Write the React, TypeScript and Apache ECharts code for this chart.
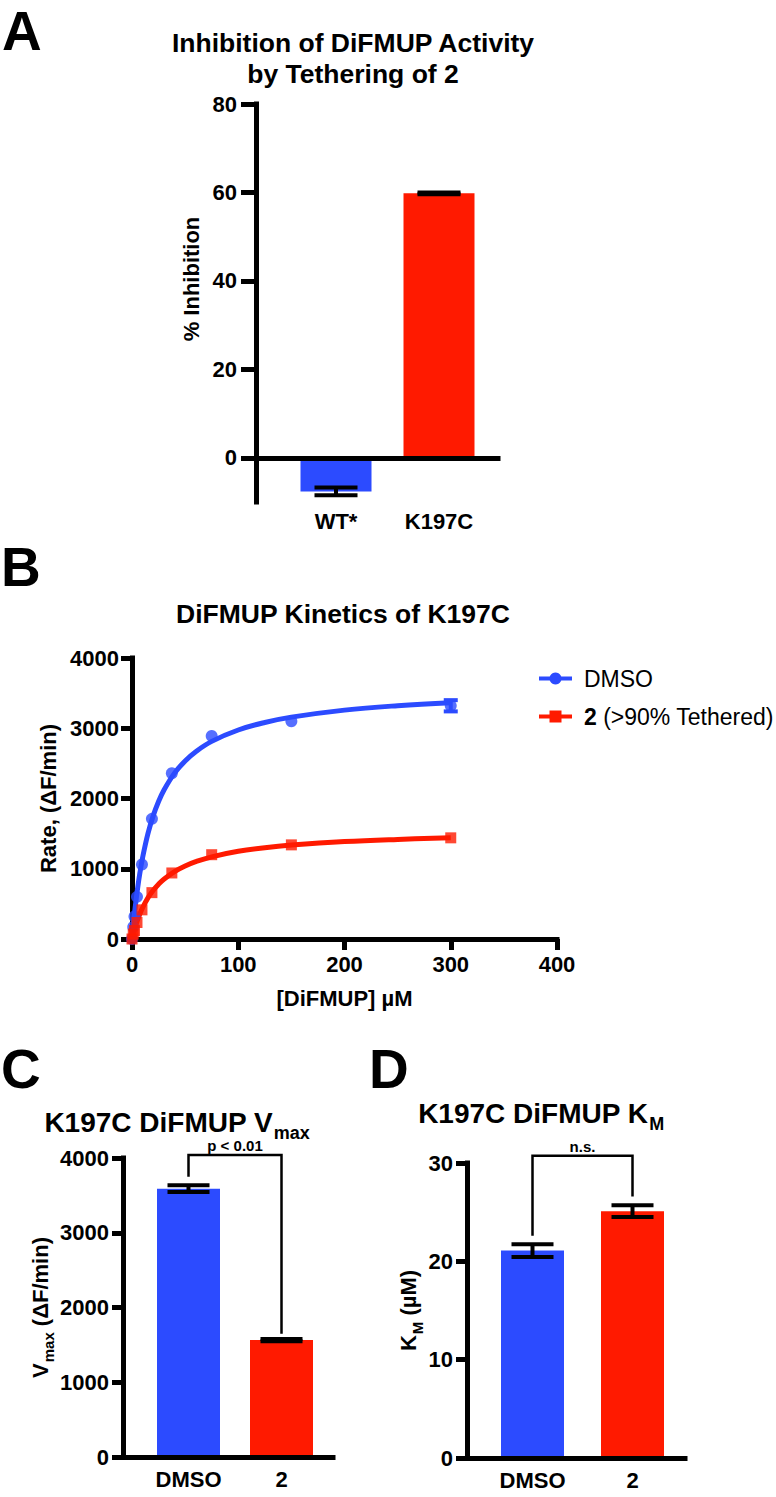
import React, { useEffect, useRef } from 'react';
import * as echarts from 'echarts';

const FONT = '"Liberation Sans", Arial, Helvetica, sans-serif';
const BLUE = '#2c4bff';
const RED = '#ff1a00';

// Panel A
const A_CATEGORIES = ['WT*', 'K197C'];
const A_MEANS = [-7.6, 59.8];
const A_ERRORS = [0.9, 0.2];
const A_TICKS = [0, 20, 40, 60, 80];

// Panel B
const B_CONC = [0, 1.17, 2.34, 4.69, 9.38, 18.75, 37.5, 75, 150, 300];
const B_DMSO_RATE = [0, 170, 320, 600, 1060, 1710, 2360, 2890, 3100, 3320];
const B_TETHER_RATE = [0, 70, 120, 235, 415, 660, 940, 1200, 1340, 1440];
const B_DMSO_ERR = [0, 0, 0, 0, 0, 0, 0, 0, 0, 80];
const B_FIT_X = [0, 1, 2, 3, 5, 7.5, 10, 15, 20, 25, 30, 40, 50, 60, 75, 100, 125, 150, 200, 250, 300];
const B_DMSO_FIT = [0, 164, 313, 450, 692, 947, 1161, 1500, 1756, 1957, 2118, 2361, 2535, 2667, 2813, 2975, 3082, 3158, 3258, 3321, 3364];
const B_TETHER_FIT = [0, 60, 116, 167, 260, 360, 446, 585, 693, 780, 851, 960, 1040, 1101, 1170, 1248, 1300, 1337, 1387, 1418, 1440];
const B_SERIES_NAMES = ['DMSO', '2 (>90% Tethered)'];

// Panel C
const C_CATEGORIES = ['DMSO', '2'];
const C_MEANS = [3590, 1565];
const C_ERRORS = [45, 15];
const C_BRACKET = [0, 1, 3750, 4040, 1650];
const C_SIG = 'p < 0.01';

// Panel D
const D_CATEGORIES = ['DMSO', '2'];
const D_MEANS = [21.1, 25.1];
const D_ERRORS = [0.65, 0.6];
const D_BRACKET = [0, 1, 22.6, 30.75, 26.6];
const D_SIG = 'n.s.';

const plain = (v: number) => String(v);
const tickFont = { color: '#000', fontFamily: FONT, fontWeight: 'bold', fontSize: 22, formatter: plain };
const catFont = { color: '#000', fontFamily: FONT, fontWeight: 'bold', fontSize: 22 };
const nameFont = { color: '#000', fontFamily: FONT, fontWeight: 'bold', fontSize: 22 };
const axisLineStyle = { color: '#000', width: 5, cap: 'square' };

const errorBar = (capWidth: number, lineWidth: number, color: string) => (params: any, api: any) => {
  const x = api.value(0);
  const lo = api.coord([x, api.value(1)]);
  const hi = api.coord([x, api.value(2)]);
  const h = capWidth / 2;
  const style = { stroke: color, lineWidth };
  return {
    type: 'group',
    children: [
      { type: 'line', shape: { x1: lo[0], y1: lo[1], x2: hi[0], y2: hi[1] }, style },
      { type: 'line', shape: { x1: lo[0] - h, y1: lo[1], x2: lo[0] + h, y2: lo[1] }, style },
      { type: 'line', shape: { x1: hi[0] - h, y1: hi[1], x2: hi[0] + h, y2: hi[1] }, style },
    ],
  };
};

const bracket = (label: string) => (params: any, api: any) => {
  const p1 = api.coord([api.value(0), api.value(2)]);
  const p2 = api.coord([api.value(0), api.value(3)]);
  const p3 = api.coord([api.value(1), api.value(3)]);
  const p4 = api.coord([api.value(1), api.value(4)]);
  return {
    type: 'group',
    children: [
      {
        type: 'polyline',
        shape: { points: [p1, p2, p3, p4] },
        style: { stroke: '#000', lineWidth: 2.5, fill: null },
      },
      {
        type: 'text',
        x: (p2[0] + p3[0]) / 2,
        y: p2[1] - 9.5,
        style: {
          text: label,
          fill: '#000',
          fontFamily: FONT,
          fontWeight: 'bold',
          fontSize: 15,
          align: 'center',
          verticalAlign: 'middle',
        },
      },
    ],
  };
};

const lineOnlyX = (gridIndex: number) => ({
  type: 'value',
  gridIndex,
  min: 0,
  max: 1,
  z: 5,
  axisLine: { show: true, onZero: true, lineStyle: axisLineStyle },
  axisTick: { show: false },
  axisLabel: { show: false },
  splitLine: { show: false },
});

const hiddenY = (gridIndex: number, min: number, max: number) => ({
  type: 'value',
  gridIndex,
  min,
  max,
  show: false,
  splitLine: { show: false },
});

const letter = (text: string, left: number, top: number) => ({
  text,
  left,
  top,
  padding: 0,
  textAlign: 'left',
  textVerticalAlign: 'middle',
  textStyle: { fontSize: 55, lineHeight: 42, fontWeight: 'bold', fontFamily: FONT, color: '#000' },
});

const subRich = {
  t: { fontSize: 28, lineHeight: 28, fontWeight: 'bold', fontFamily: FONT, color: '#000' },
  s: { fontSize: 18, lineHeight: 18, fontWeight: 'bold', fontFamily: FONT, color: '#000', padding: [21, 0, 0, 1] },
};

const nameRich = {
  a: { fontSize: 22, lineHeight: 22, fontWeight: 'bold', fontFamily: FONT, color: '#000' },
  s: { fontSize: 15, lineHeight: 15, fontWeight: 'bold', fontFamily: FONT, color: '#000', padding: [17, 0, 0, 1] },
};

function buildOption(): any {
  const aBars = A_MEANS.map((v, i) => ({ value: v, itemStyle: { color: i === 0 ? BLUE : RED } }));
  const aErr = A_MEANS.map((v, i) => [i, v - A_ERRORS[i], v + A_ERRORS[i]]);
  const cBars = C_MEANS.map((v, i) => ({ value: v, itemStyle: { color: i === 0 ? BLUE : RED } }));
  const cErr = C_MEANS.map((v, i) => [i, v - C_ERRORS[i], v + C_ERRORS[i]]);
  const dBars = D_MEANS.map((v, i) => ({ value: v, itemStyle: { color: i === 0 ? BLUE : RED } }));
  const dErr = D_MEANS.map((v, i) => [i, v - D_ERRORS[i], v + D_ERRORS[i]]);
  const bErr = B_CONC.map((x, i) => [x, B_DMSO_RATE[i] - B_DMSO_ERR[i], B_DMSO_RATE[i] + B_DMSO_ERR[i], B_DMSO_ERR[i]])
    .filter((d) => d[3] > 0);

  return {
    animation: false,
    backgroundColor: '#fff',
    title: [
      letter('A', 2, 31),
      {
        text: 'Inhibition of DiFMUP Activity\nby Tethering of 2',
        left: 353,
        top: 58.5,
        padding: 0,
        textAlign: 'center',
        textVerticalAlign: 'middle',
        textStyle: { fontSize: 26.5, lineHeight: 31, fontWeight: 'bold', fontFamily: FONT, color: '#000' },
      },
      letter('B', 1, 567),
      {
        text: 'DiFMUP Kinetics of K197C',
        left: 343,
        top: 614,
        padding: 0,
        textAlign: 'center',
        textVerticalAlign: 'middle',
        textStyle: { fontSize: 26.5, fontWeight: 'bold', fontFamily: FONT, color: '#000' },
      },
      letter('C', 1, 1068.5),
      {
        text: '{t|K197C DiFMUP V}{s|max}',
        left: 177,
        top: 1122.7,
        padding: 0,
        textAlign: 'center',
        textVerticalAlign: 'middle',
        textStyle: { rich: subRich },
      },
      letter('D', 369, 1068.5),
      {
        text: '{t|K197C DiFMUP K}{s|M}',
        left: 541,
        top: 1113,
        padding: 0,
        textAlign: 'center',
        textVerticalAlign: 'middle',
        textStyle: { rich: subRich },
      },
    ],
    legend: {
      data: B_SERIES_NAMES,
      orient: 'vertical',
      left: 537,
      top: 667,
      padding: 0,
      itemGap: 15,
      itemWidth: 33,
      itemHeight: 15,
      selectedMode: false,
      lineStyle: { width: 4 },
      formatter: (n: string) => (n === B_SERIES_NAMES[0] ? n : '{b|2} (>90% Tethered)'),
      textStyle: {
        color: '#000',
        fontFamily: FONT,
        fontSize: 23,
        padding: [0, 0, 0, 7],
        rich: { b: { fontWeight: 'bold', fontSize: 23, fontFamily: FONT, color: '#000' } },
      },
    },
    grid: [
      { left: 284.5, top: 104, width: 206, height: 398 },
      { left: 256, top: 104, width: 242, height: 398 },
      { left: 132, top: 658, width: 425, height: 281 },
      { left: 142, top: 1158, width: 186, height: 299 },
      { left: 123, top: 1158, width: 210, height: 299 },
      { left: 482.5, top: 1163, width: 200, height: 295 },
      { left: 467, top: 1163, width: 218, height: 295 },
    ],
    xAxis: [
      {
        type: 'category',
        gridIndex: 0,
        data: A_CATEGORIES,
        axisLine: { show: false, onZero: false },
        axisTick: { show: false },
        axisLabel: { ...catFont, margin: 8 },
      },
      lineOnlyX(1),
      {
        type: 'value',
        gridIndex: 2,
        min: 0,
        max: 400,
        interval: 100,
        axisLine: { show: true, onZero: false, lineStyle: axisLineStyle },
        axisTick: { show: true, length: 11, lineStyle: { color: '#000', width: 5 } },
        axisLabel: { ...tickFont, margin: 14 },
        splitLine: { show: false },
        name: '[DiFMUP] µM',
        nameLocation: 'middle',
        nameGap: 48,
        nameTextStyle: nameFont,
      },
      {
        type: 'category',
        gridIndex: 3,
        data: C_CATEGORIES,
        axisLine: { show: false, onZero: false },
        axisTick: { show: false },
        axisLabel: { ...catFont, margin: 11 },
      },
      lineOnlyX(4),
      {
        type: 'category',
        gridIndex: 5,
        data: D_CATEGORIES,
        axisLine: { show: false, onZero: false },
        axisTick: { show: false },
        axisLabel: { ...catFont, margin: 11 },
      },
      lineOnlyX(6),
    ],
    yAxis: [
      {
        type: 'value',
        gridIndex: 0,
        min: -10,
        max: 80,
        offset: 28.5,
        axisLine: { show: true, lineStyle: axisLineStyle },
        axisTick: { show: true, length: 15, lineStyle: { color: '#000', width: 5 }, customValues: A_TICKS },
        axisLabel: { ...tickFont, margin: 19, customValues: A_TICKS },
        splitLine: { show: false },
        name: '% Inhibition',
        nameLocation: 'middle',
        nameRotate: 90,
        nameGap: 54,
        nameTextStyle: { ...nameFont, padding: [0, 0, 0, 48] },
      },
      hiddenY(1, -10, 80),
      {
        type: 'value',
        gridIndex: 2,
        min: 0,
        max: 4000,
        interval: 1000,
        axisLine: { show: true, lineStyle: axisLineStyle },
        axisTick: { show: true, length: 11, lineStyle: { color: '#000', width: 5 } },
        axisLabel: { ...tickFont, margin: 13 },
        splitLine: { show: false },
        name: 'Rate, (ΔF/min)',
        nameLocation: 'middle',
        nameRotate: 90,
        nameGap: 54,
        nameTextStyle: nameFont,
      },
      {
        type: 'value',
        gridIndex: 3,
        min: 0,
        max: 4000,
        interval: 1000,
        offset: 19,
        axisLine: { show: true, lineStyle: axisLineStyle },
        axisTick: { show: true, length: 11, lineStyle: { color: '#000', width: 5 } },
        axisLabel: { ...tickFont, margin: 14 },
        splitLine: { show: false },
        name: '{a|V}{s|max}{a| (ΔF/min)}',
        nameLocation: 'middle',
        nameRotate: 90,
        nameGap: 68,
        nameTextStyle: { rich: nameRich },
      },
      hiddenY(4, 0, 4000),
      {
        type: 'value',
        gridIndex: 5,
        min: 0,
        max: 30,
        interval: 10,
        offset: 15.5,
        axisLine: { show: true, lineStyle: axisLineStyle },
        axisTick: { show: true, length: 11, lineStyle: { color: '#000', width: 5 } },
        axisLabel: { ...tickFont, margin: 14 },
        splitLine: { show: false },
        name: '{a|K}{s|M}{a| (µM)}',
        nameLocation: 'middle',
        nameRotate: 90,
        nameGap: 36,
        nameTextStyle: { rich: nameRich },
      },
      hiddenY(6, 0, 30),
    ],
    series: [
      // Panel A
      { type: 'bar', xAxisIndex: 0, yAxisIndex: 0, data: aBars, barWidth: 71 },
      {
        type: 'custom', xAxisIndex: 0, yAxisIndex: 0, data: aErr, z: 4,
        encode: { x: 0, y: [1, 2] }, renderItem: errorBar(43, 4, '#000'),
      },
      // Panel B
      {
        type: 'line', name: B_SERIES_NAMES[0], xAxisIndex: 2, yAxisIndex: 2,
        data: B_FIT_X.map((x, i) => [x, B_DMSO_FIT[i]]),
        smooth: 0.4, symbol: 'circle', showSymbol: false,
        lineStyle: { color: BLUE, width: 5 }, itemStyle: { color: BLUE },
      },
      {
        type: 'line', name: B_SERIES_NAMES[1], xAxisIndex: 2, yAxisIndex: 2,
        data: B_FIT_X.map((x, i) => [x, B_TETHER_FIT[i]]),
        smooth: 0.4, symbol: 'rect', showSymbol: false,
        lineStyle: { color: RED, width: 5 }, itemStyle: { color: RED },
      },
      {
        type: 'scatter', name: 'DMSO data', xAxisIndex: 2, yAxisIndex: 2, z: 4,
        data: B_CONC.map((x, i) => [x, B_DMSO_RATE[i]]),
        symbol: 'circle', symbolSize: 12, itemStyle: { color: BLUE },
      },
      {
        type: 'scatter', name: 'Tethered data', xAxisIndex: 2, yAxisIndex: 2, z: 4,
        data: B_CONC.map((x, i) => [x, B_TETHER_RATE[i]]),
        symbol: 'rect', symbolSize: 11, itemStyle: { color: RED },
      },
      {
        type: 'custom', xAxisIndex: 2, yAxisIndex: 2, data: bErr, z: 4,
        encode: { x: 0, y: [1, 2] }, renderItem: errorBar(14, 4, BLUE),
      },
      // Panel C
      { type: 'bar', xAxisIndex: 3, yAxisIndex: 3, data: cBars, barWidth: 63 },
      {
        type: 'custom', xAxisIndex: 3, yAxisIndex: 3, data: cErr, z: 4,
        encode: { x: 0, y: [1, 2] }, renderItem: errorBar(42, 4, '#000'),
      },
      {
        type: 'custom', xAxisIndex: 3, yAxisIndex: 3, data: [C_BRACKET], z: 4,
        encode: { x: [0, 1], y: [2, 3, 4] }, renderItem: bracket(C_SIG),
      },
      // Panel D
      { type: 'bar', xAxisIndex: 5, yAxisIndex: 5, data: dBars, barWidth: 63 },
      {
        type: 'custom', xAxisIndex: 5, yAxisIndex: 5, data: dErr, z: 4,
        encode: { x: 0, y: [1, 2] }, renderItem: errorBar(42, 4, '#000'),
      },
      {
        type: 'custom', xAxisIndex: 5, yAxisIndex: 5, data: [D_BRACKET], z: 4,
        encode: { x: [0, 1], y: [2, 3, 4] }, renderItem: bracket(D_SIG),
      },
    ],
  };
}

export default function App() {
  const ref = useRef<HTMLDivElement>(null);
  useEffect(() => {
    if (!ref.current) return;
    const chart = echarts.init(ref.current, null, { renderer: 'svg' });
    chart.setOption(buildOption());
    return () => chart.dispose();
  }, []);
  return (
    <div
      ref={ref}
      style={{ position: 'absolute', left: 0, top: 0, width: 776, height: 1497, background: '#fff' }}
    />
  );
}
